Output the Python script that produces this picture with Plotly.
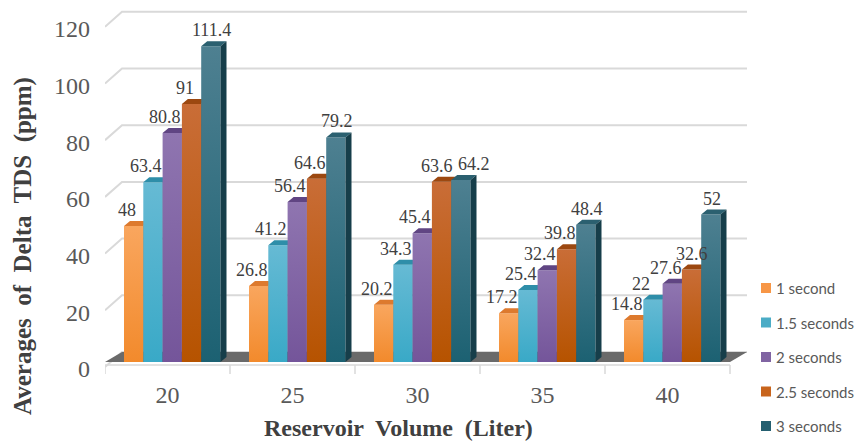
import plotly.graph_objects as go

# ---- data -------------------------------------------------------------
volumes = ["20", "25", "30", "35", "40"]
series_names = ["1 second", "1.5 seconds", "2 seconds", "2.5 seconds", "3 seconds"]
tds_1s = [48, 26.8, 20.2, 17.2, 14.8]
tds_1_5s = [63.4, 41.2, 34.3, 25.4, 22]
tds_2s = [80.8, 56.4, 45.4, 32.4, 27.6]
tds_2_5s = [91, 64.6, 63.6, 39.8, 32.6]
tds_3s = [111.4, 79.2, 64.2, 48.4, 52]
y_ticks = [0, 20, 40, 60, 80, 100, 120]

series_values = [tds_1s, tds_1_5s, tds_2s, tds_2_5s, tds_3s]

# ---- styling ------------------------------------------------------------
# (front bottom, front top, top face, side face, legend swatch)
palette = [
    ("#F28A2C", "#F9A65E", "#DD7A2E", "#B7621E", "#F79646"),
    ("#39A9C7", "#66BAD4", "#2E8EA9", "#22748B", "#4BACC6"),
    ("#74559A", "#8F75B0", "#604583", "#4C366A", "#8064A2"),
    ("#B65300", "#C96D37", "#9C4810", "#7C3A0C", "#C8641C"),
    ("#1C6172", "#4E8091", "#2B6070", "#163E4A", "#245F70"),
]

W, H = 859, 446
PLOT_L, PLOT_R, PLOT_T, PLOT_B = 105, 747, 8, 376
PX_PER_CAT = 125.0          # pixels per category on the x axis
PX_PER_UNIT = 2.835         # pixels per ppm on the y axis
ZERO_PX = 362               # pixel row of value 0 on the bar fronts


def ux(px):
    return px / PX_PER_CAT


def uy(px):
    return px / PX_PER_UNIT


x_range = [-0.5, -0.5 + ux(PLOT_R - PLOT_L)]
y_range = [-uy(PLOT_B - ZERO_PX), uy(ZERO_PX - PLOT_T)]


def paper_x(px):
    return (px - PLOT_L) / (PLOT_R - PLOT_L)


def paper_y(py):
    return (PLOT_B - py) / (PLOT_B - PLOT_T)


bar_w = ux(19.3)
group_left = ux(-43.5)
depth_x = ux(6)
depth_y = uy(5)
wall_dx = ux(17)
grid_front = uy(5)
grid_back = uy(10)

GRID = "#D9D9D9"
TEXT = "#404040"
TICK = "#595959"
SERIF = "Liberation Serif"

fig = go.Figure()
shapes = []
annotations = []

# back-wall gridlines with their diagonal return towards the front
for t in y_ticks:
    shapes.append(dict(
        type="path", xref="x", yref="y", layer="below",
        path=(f"M {-0.5},{t - grid_front} L {-0.5 + wall_dx},{t + grid_back} "
              f"L {4.5 + wall_dx},{t + grid_back}"),
        line=dict(color=GRID, width=2),
    ))

# dark floor strip under the bars
shapes.append(dict(
    type="path", xref="x", yref="y", layer="below",
    path=(f"M -0.5,0 L 4.5,0 L {4.5 + wall_dx},{grid_back} "
          f"L {-0.5 + wall_dx},{grid_back} Z"),
    fillcolor="#6A6A6A", line=dict(width=0),
))

# category axis line with boundary ticks
axis_y = -uy(3)
shapes.append(dict(type="line", xref="x", yref="y", layer="below",
                   x0=-0.5, x1=4.5, y0=axis_y, y1=axis_y,
                   line=dict(color=GRID, width=1.5)))
for b in range(len(volumes) + 1):
    shapes.append(dict(type="line", xref="x", yref="y", layer="below",
                       x0=b - 0.5, x1=b - 0.5, y0=axis_y, y1=-uy(12),
                       line=dict(color=GRID, width=1.5)))

# label nudges (pixels) to keep neighbouring labels apart
series_nudge = [-7, -7, -7, -7, 1]
label_nudge = {("30", "2.5 seconds"): -5, ("30", "3 seconds"): 13,
               ("40", "1.5 seconds"): -12, ("40", "2 seconds"): -6,
               ("40", "2.5 seconds"): 0}

# 3-D bars: front face, top face and right side face for each series
for s, (name, vals) in enumerate(zip(series_names, series_values)):
    c_bot, c_top, c_cap, c_side, _ = palette[s]
    tops_x, tops_y, side_x, side_y = [], [], [], []
    for g, v in enumerate(vals):
        xl = g + group_left + s * bar_w
        xr = xl + bar_w
        fig.add_trace(go.Scatter(
            x=[xl, xr, xr, xl, xl], y=[0, 0, v, v, 0],
            mode="lines", fill="toself", line=dict(width=0),
            fillgradient=dict(type="vertical",
                              colorscale=[[0, c_bot], [1, c_top]]),
            hoverinfo="skip", showlegend=False,
        ))
        tops_x += [xl, xr, xr + depth_x, xl + depth_x, xl, None]
        tops_y += [v, v, v + depth_y, v + depth_y, v, None]
        side_x += [xr, xr + depth_x, xr + depth_x, xr, xr, None]
        side_y += [0, depth_y, v + depth_y, v, 0, None]

        nudge = label_nudge.get((volumes[g], name), series_nudge[s])
        annotations.append(dict(
            x=(xl + xr) / 2, y=v + depth_y, xref="x", yref="y",
            text=f"{v:g}", showarrow=False, yanchor="bottom",
            xshift=nudge, yshift=0, borderpad=0,
            font=dict(family=SERIF, size=18, color=TEXT),
        ))
    fig.add_trace(go.Scatter(x=tops_x, y=tops_y, mode="lines", fill="toself",
                             fillcolor=c_cap, line=dict(width=0),
                             hoverinfo="skip", showlegend=False))
    fig.add_trace(go.Scatter(x=side_x, y=side_y, mode="lines", fill="toself",
                             fillcolor=c_side, line=dict(width=0),
                             hoverinfo="skip", showlegend=False))

# legend drawn at the right-hand side
legend_rows = [288, 322.5, 357, 391.5, 426]
for s, name in enumerate(series_names):
    cy = legend_rows[s]
    shapes.append(dict(type="rect", xref="paper", yref="paper",
                       x0=paper_x(761), x1=paper_x(771),
                       y0=paper_y(cy + 5), y1=paper_y(cy - 5),
                       fillcolor=palette[s][4], line=dict(width=0)))
    annotations.append(dict(x=paper_x(774), y=paper_y(cy), xref="paper",
                            yref="paper", text=name, showarrow=False,
                            xanchor="left", yanchor="middle",
                            font=dict(family="Lato", size=15, color=TICK)))

# axis titles
annotations.append(dict(
    x=paper_x(398), y=paper_y(428), xref="paper", yref="paper",
    text="<b>Reservoir  Volume  (Liter)</b>", showarrow=False,
    xanchor="center", yanchor="middle",
    font=dict(family=SERIF, size=24, color=TEXT)))
annotations.append(dict(
    x=paper_x(23), y=paper_y(246), xref="paper", yref="paper",
    text="<b>Averages  of  Delta  TDS  (ppm)</b>", showarrow=False,
    textangle=-90, xanchor="center", yanchor="middle",
    font=dict(family=SERIF, size=25, color=TEXT)))

fig.update_layout(
    width=W, height=H,
    margin=dict(l=PLOT_L, r=W - PLOT_R, t=PLOT_T, b=H - PLOT_B),
    paper_bgcolor="white", plot_bgcolor="white",
    showlegend=False,
    shapes=shapes, annotations=annotations,
    xaxis=dict(range=x_range, tickvals=list(range(len(volumes))),
               ticktext=volumes, showgrid=False, zeroline=False,
               showline=False, ticks="", ticklabelstandoff=2,
               tickfont=dict(family=SERIF, size=24, color=TICK),
               fixedrange=True),
    yaxis=dict(range=y_range, tickvals=y_ticks, showgrid=False,
               zeroline=False, showline=False, ticks="",
               ticklabelstandoff=14, ticklabelshift=7,
               tickfont=dict(family=SERIF, size=24, color=TICK),
               fixedrange=True),
)

fig.write_html("out.html")
